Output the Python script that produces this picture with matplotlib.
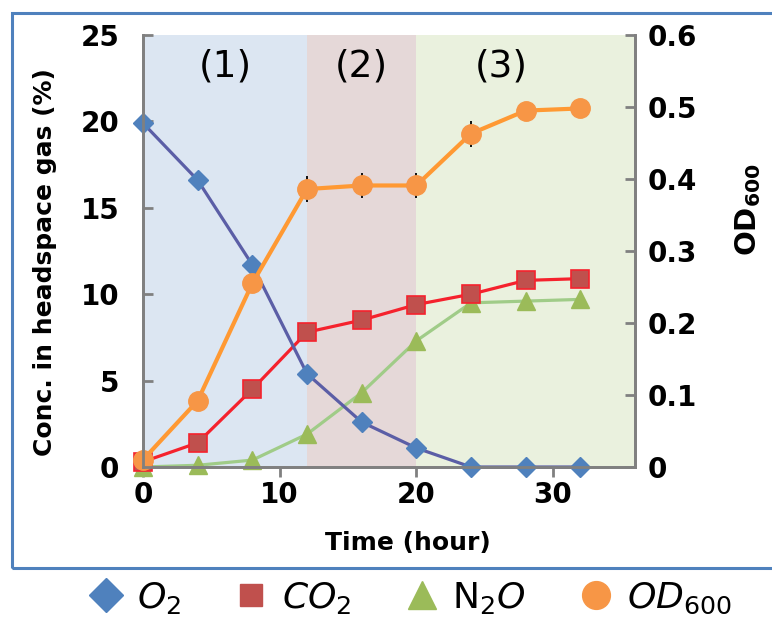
import matplotlib
matplotlib.use('Agg')
import matplotlib.pyplot as plt
from matplotlib.patches import Rectangle
from matplotlib.lines import Line2D

# sampling times (hour)
hours = [0, 4, 8, 12, 16, 20, 24, 28, 32]

# headspace gas concentrations (%)
o2 = [19.9, 16.6, 11.7, 5.4, 2.6, 1.1, 0.0, 0.0, 0.0]
co2 = [0.3, 1.4, 4.5, 7.8, 8.5, 9.4, 10.0, 10.8, 10.9]
n2o = [0.0, 0.1, 0.4, 1.9, 4.3, 7.3, 9.5, 9.6, 9.7]

# optical density and its error
od600 = [0.01, 0.092, 0.255, 0.386, 0.391, 0.391, 0.463, 0.495, 0.498]
od_err = [0, 0, 0, 0.018, 0.018, 0.018, 0.018, 0, 0]

# growth phases
phases = [(0, 12, '#DCE6F2', '(1)'), (12, 20, '#E5D8D8', '(2)'), (20, 36, '#EAF1DE', '(3)')]

fig = plt.figure(figsize=(7.72, 6.21), dpi=100)
ax = fig.add_axes([143/772, 1-467/621, (635-143)/772, (467-35)/621])
ax2 = ax.twinx()

# shaded phases with labels
for x0, x1, col, lab in phases:
    ax.axvspan(x0, x1, color=col, zorder=0, lw=0)
lab_x = [6, 16, 26.2]
for (x0, x1, col, lab), lx in zip(phases, lab_x):
    ax.text(lx, 23.2, lab, ha='center', va='center', fontsize=27, zorder=5)

# gas series
ax.plot(hours, o2, color='#5B5EA6', lw=2.3, marker='D', ms=10,
        mfc='#4F81BD', mec='#4F81BD', zorder=4, clip_on=False)
ax.plot(hours, co2, color='#F5222D', lw=2.3, marker='s', ms=13,
        mfc='#C0504D', mec='#F5222D', mew=1.2, zorder=3, clip_on=False)
ax.plot(hours, n2o, color='#A0CC88', lw=2.3, marker='^', ms=13,
        mfc='#9BBB59', mec='#9BBB59', zorder=2, clip_on=False)

# optical density on the right axis
ax2.errorbar(hours, od600, yerr=od_err, color='#FF9933', lw=3, marker='o', ms=14,
             mfc='#F79646', mec='#F79646', ecolor='black', elinewidth=1.3, capsize=0,
             clip_on=False)

ax.set_xlim(0, 36)
ax.set_ylim(0, 25)
ax2.set_ylim(0, 0.6)
ax.set_xticks([0, 10, 20, 30])
ax.set_yticks([0, 5, 10, 15, 20, 25])
ax2.set_yticks([0, 0.1, 0.2, 0.3, 0.4, 0.5, 0.6])
ax2.set_yticklabels(['0', '0.1', '0.2', '0.3', '0.4', '0.5', '0.6'])

for a in (ax, ax2):
    a.spines['top'].set_visible(False)
    for s in ('left', 'right', 'bottom'):
        a.spines[s].set_color('#808080')
        a.spines[s].set_linewidth(2)
ax.tick_params(axis='y', direction='in', length=7, width=2, color='#808080',
               labelsize=20, pad=17)
ax.tick_params(axis='x', direction='out', length=7, width=2, color='#808080',
               labelsize=20, pad=3)
ax2.tick_params(axis='y', direction='in', length=7, width=2, color='#808080',
                labelsize=20, pad=9)
for lab in ax.get_xticklabels() + ax.get_yticklabels() + ax2.get_yticklabels():
    lab.set_fontweight('bold')

fig.text(45/772, 1-262/621, 'Conc. in headspace gas (%)', rotation=90,
         ha='center', va='center', fontsize=18, fontweight='bold')
fig.text(408/772, 1-543/621, 'Time (hour)', ha='center', va='center',
         fontsize=18, fontweight='bold')
fig.text(748/772, 1-210/621, r'$\mathbf{OD_{600}}$', rotation=90,
         ha='center', va='center', fontsize=21)

# blue frame around the plot area
fig.patches.append(Rectangle((12/772, 1-568/621), 1.0, (568-13)/621,
                             transform=fig.transFigure, fill=False,
                             edgecolor='#4F81BD', lw=2.2))

handles = [
    Line2D([], [], ls='none', marker='D', ms=17, mfc='#4F81BD', mec='#4F81BD'),
    Line2D([], [], ls='none', marker='s', ms=16, mfc='#C0504D', mec='#C0504D'),
    Line2D([], [], ls='none', marker='^', ms=20, mfc='#9BBB59', mec='#9BBB59'),
    Line2D([], [], ls='none', marker='o', ms=20, mfc='#F79646', mec='#F79646'),
]
labels = [r'$O_2$', r'$CO_2$', r'N$_2$$O$', r'$OD_{600}$']
fig.legend(handles, labels, loc='center', bbox_to_anchor=(410/772, 1-598/621),
           ncol=4, frameon=False, fontsize=26, handletextpad=0.35,
           columnspacing=1.45, handlelength=1.0)

fig.savefig('out.png', dpi=100)
